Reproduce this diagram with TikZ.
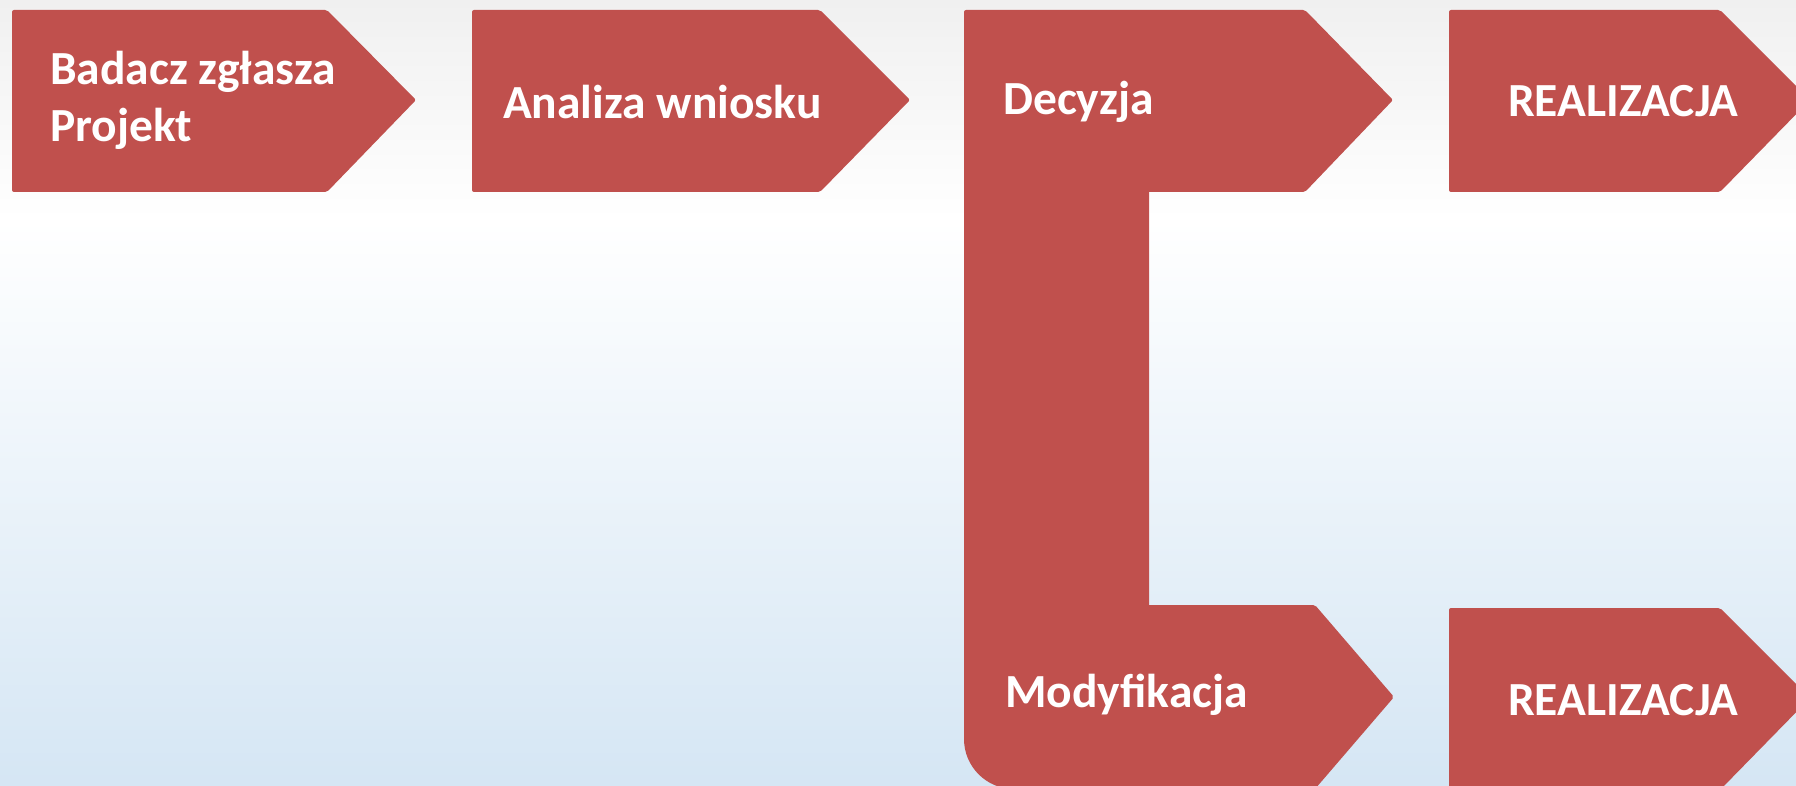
\documentclass[tikz,border=0pt]{standalone}
\usepackage{fontspec}
\setmainfont{Carlito}
\definecolor{boxred}{RGB}{192,80,77}
\definecolor{bgtop}{RGB}{240,240,240}
\definecolor{bgbot}{RGB}{213,230,244}
\begin{document}
\begin{tikzpicture}[x=1pt,y=-1pt,
  shapebox/.style={fill=boxred, draw=none, rounded corners=2pt},
  lbl/.style={text=white, font=\fontsize{47.5}{57}\selectfont\bfseries, inner sep=0pt, anchor=base west, align=left}]
\useasboundingbox (0,0) rectangle (1796,786);
\shade[top color=bgtop, bottom color=white] (0,0) rectangle (1796,220);
\shade[top color=white, bottom color=bgbot] (0,220) rectangle (1796,786);
\begin{scope}
\clip (0,0) rectangle (1796,786);
% Box 1
\fill[shapebox] (12,10) -- (327,10) -- (416,100) -- (327,192) -- (12,192) -- cycle;
% Box 2
\fill[shapebox] (472,10) -- (820,10) -- (910,100) -- (820,192) -- (472,192) -- cycle;
% Decyzja + Modyfikacja
\fill[boxred] (964,12) [rounded corners=2pt] -- (964,10) -- (1305,10) -- (1393,100) -- (1305,192) [sharp corners] -- (1149,192) -- (1149,605) [rounded corners=2pt] -- (1315,605) -- (1394,697) [sharp corners] -- (1315,789) -- (1014,789) arc[start angle=90, end angle=180, radius=50] -- cycle;
% Realizacja 1
\fill[shapebox] (1449,10) -- (1720,10) -- (1810,100) -- (1720,192) -- (1449,192) -- cycle;
% Realizacja 2
\fill[shapebox] (1449,608) -- (1720,608) -- (1810,698) -- (1720,790) -- (1449,790) -- cycle;
\end{scope}
\node[lbl] (t1) at (50,85) {Badacz zgłasza};
\node[lbl] (t1b) at (50,142) {Projekt};
\node[lbl] (t2) at (503,119) {Analiza wniosku};
\node[lbl] (t3) at (1003,115) {Decyzja};
\node[lbl] (t4) at (1508,117) {REALIZACJA};
\node[lbl] (t5) at (1005,707) {Modyfikacja};
\node[lbl] (t6) at (1508,715) {REALIZACJA};
\end{tikzpicture}
\end{document}
